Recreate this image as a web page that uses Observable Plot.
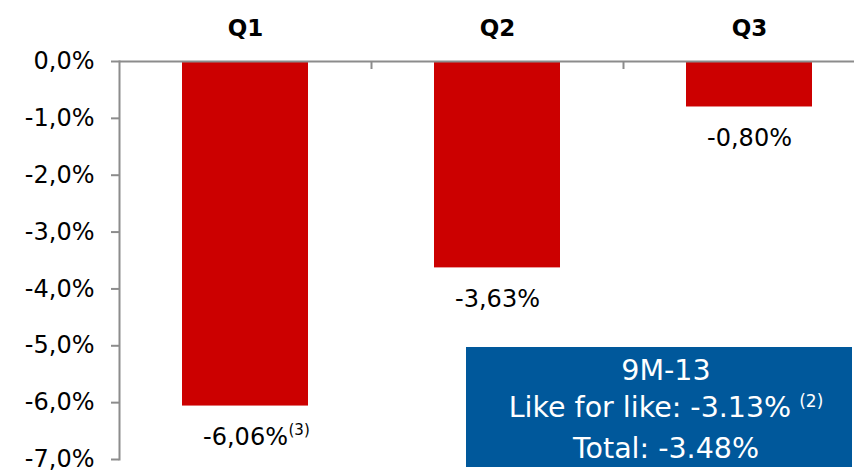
<!DOCTYPE html>
<html>
<head>
<meta charset="utf-8">
<script src="https://cdn.jsdelivr.net/npm/d3@7"></script>
<script src="https://cdn.jsdelivr.net/npm/@observablehq/plot@0.6"></script>
<style>
  body { margin: 0; background: #fff; }
  #wrap { position: relative; width: 854px; height: 472px; overflow: hidden; font-family: "DejaVu Sans", sans-serif; }
  #chart svg { display: block; }
  #box { position: absolute; left: 466px; top: 347px; width: 386px; height: 120px; background: #00589B; color: #fff;
         font-size: 28.5px; line-height: 37px; text-align: center; box-sizing: border-box; padding-top: 5px; padding-left: 14px; }
  #box .sup { font-size: 17px; position: relative; top: -10px; margin-left: 8px; }
</style>
</head>
<body>
<div id="wrap">
  <div id="chart"></div>
  <div id="box"></div>
</div>
<script>
// ---- data ----
const quarters = ["Q1", "Q2", "Q3"];
const values = [-6.06, -3.63, -0.80];
const valueLabels = ["-6,06%", "-3,63%", "-0,80%"];
const notes = ["(3)", "", ""];
const yTicks = [0, -1, -2, -3, -4, -5, -6, -7];
const yTickLabels = ["0,0%", "-1,0%", "-2,0%", "-3,0%", "-4,0%", "-5,0%", "-6,0%", "-7,0%"];
const summaryLines = ["9M-13", "Like for like: -3.13%", "Total: -3.48%"];
const summaryNotes = ["", "(2)", ""];

const data = quarters.map((q, i) => ({q, v: values[i], label: valueLabels[i], note: notes[i]}));

const axisGray = "#8c8c8c";
const W = 854, H = 472;

const chart = Plot.plot({
  width: W,
  height: H,
  marginLeft: 119,
  marginRight: 0,
  marginTop: 61,
  marginBottom: 13,
  style: {fontFamily: "'DejaVu Sans', sans-serif", background: "#fff", overflow: "visible"},
  x: {type: "band", domain: quarters, range: [119, 875], paddingInner: 0.5, paddingOuter: 0.25, axis: null},
  y: {domain: [-7, 0], axis: null},
  marks: [
    Plot.barY(data, {x: "q", y1: 0, y2: "v", fill: "#CC0000"}),
    Plot.frame({anchor: "left", stroke: axisGray, strokeWidth: 2}),
    Plot.ruleY([0], {stroke: axisGray, strokeWidth: 2}),
    Plot.ruleX(quarters.slice(1), {x: d => d, y1: 0, y2: 0, dx: -126, insetBottom: -8, stroke: axisGray, strokeWidth: 2}),
    Plot.axisY(yTicks, {
      anchor: "left", tickSize: 8, tickPadding: 17, stroke: axisGray, strokeWidth: 2,
      fill: "black", fontSize: 24, label: null,
      tickFormat: d => yTickLabels[yTicks.indexOf(d)]
    }),
    Plot.axisX({anchor: "top", tickSize: 0, tickPadding: 26, fontSize: 23, fontWeight: "bold", fill: "black", label: null}),
    Plot.text(data, {x: "q", y: "v", text: "label", dy: 31, fontSize: 24, lineAnchor: "middle", fill: "black"}),
    Plot.text(data, {x: "q", y: "v", text: "note", dx: 43, dy: 24, fontSize: 15, textAnchor: "start", lineAnchor: "middle", fill: "black"})
  ]
});
document.getElementById("chart").appendChild(chart);

const box = document.getElementById("box");
summaryLines.forEach((t, i) => {
  const line = document.createElement("div");
  line.textContent = t;
  if (summaryNotes[i]) {
    const s = document.createElement("span");
    s.className = "sup";
    s.textContent = summaryNotes[i];
    line.appendChild(s);
  }
  box.appendChild(line);
});
</script>
</body>
</html>
